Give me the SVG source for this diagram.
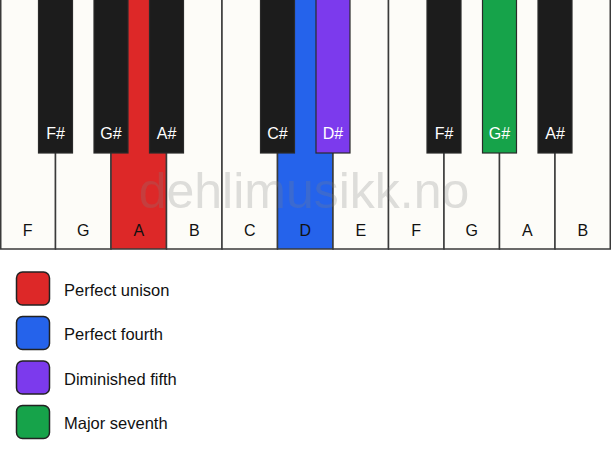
<svg xmlns="http://www.w3.org/2000/svg" width="611" height="461" viewBox="0 0 611 461">
<style>
.w{fill:#fdfcf8;stroke:#3a3a3a;stroke-width:1.5}
.b{fill:#1c1c1c;stroke:#2a2a2a;stroke-width:1.2}
.lw{font-family:"Liberation Sans",Arial,sans-serif;font-size:16px;fill:#111;text-anchor:middle}
.lb{font-family:"Liberation Sans",Arial,sans-serif;font-size:16px;fill:#fff;text-anchor:middle}
.sw{stroke:#222;stroke-width:1.5}
.lt{font-family:"Liberation Sans",Arial,sans-serif;font-size:16.5px;fill:#111}
</style>
<rect width="611" height="461" fill="#ffffff"/>
<g id="white-keys">
<g id="key-F1"><rect class="w" x="0.75" y="-1" width="54.75" height="250"/><text class="lw" x="27.75" y="236">F</text></g>
<g id="key-G1"><rect class="w" x="55.5" y="-1" width="55.5" height="250"/><text class="lw" x="83.25" y="236">G</text></g>
<g id="key-A1"><rect class="w" x="111" y="-1" width="55.5" height="250" style="fill:#dd2828"/><text class="lw" x="138.75" y="236">A</text></g>
<g id="key-B1"><rect class="w" x="166.5" y="-1" width="55.5" height="250"/><text class="lw" x="194.25" y="236">B</text></g>
<g id="key-C"><rect class="w" x="222" y="-1" width="55.5" height="250"/><text class="lw" x="249.75" y="236">C</text></g>
<g id="key-D"><rect class="w" x="277.5" y="-1" width="55.5" height="250" style="fill:#2563eb"/><text class="lw" x="305.25" y="236">D</text></g>
<g id="key-E"><rect class="w" x="333" y="-1" width="55.5" height="250"/><text class="lw" x="360.75" y="236">E</text></g>
<g id="key-F2"><rect class="w" x="388.5" y="-1" width="55.5" height="250"/><text class="lw" x="416.25" y="236">F</text></g>
<g id="key-G2"><rect class="w" x="444" y="-1" width="55.5" height="250"/><text class="lw" x="471.75" y="236">G</text></g>
<g id="key-A2"><rect class="w" x="499.5" y="-1" width="55.5" height="250"/><text class="lw" x="527.25" y="236">A</text></g>
<g id="key-B2"><rect class="w" x="555" y="-1" width="55.25" height="250"/><text class="lw" x="582.75" y="236">B</text></g>
</g>
<g id="black-keys">
<g id="key-Fs1"><rect class="b" x="38.5" y="-1" width="34" height="154"/><text class="lb" x="55.5" y="139">F#</text></g>
<g id="key-Gs1"><rect class="b" x="94" y="-1" width="34" height="154"/><text class="lb" x="111" y="139">G#</text></g>
<g id="key-As1"><rect class="b" x="149.5" y="-1" width="34" height="154"/><text class="lb" x="166.5" y="139">A#</text></g>
<g id="key-Cs"><rect class="b" x="260.5" y="-1" width="34" height="154"/><text class="lb" x="277.5" y="139">C#</text></g>
<g id="key-Ds"><rect class="b" x="316" y="-1" width="34" height="154" style="fill:#7c3aed"/><text class="lb" x="333" y="139">D#</text></g>
<g id="key-Fs2"><rect class="b" x="427" y="-1" width="34" height="154"/><text class="lb" x="444" y="139">F#</text></g>
<g id="key-Gs2"><rect class="b" x="482.5" y="-1" width="34" height="154" style="fill:#16a34a"/><text class="lb" x="499.5" y="139">G#</text></g>
<g id="key-As2"><rect class="b" x="538" y="-1" width="34" height="154"/><text class="lb" x="555" y="139">A#</text></g>
</g>
<text x="304" y="208" font-family="Liberation Sans,Arial,sans-serif" font-size="50" fill="#808080" fill-opacity="0.25" text-anchor="middle">dehlimusikk.no</text>
<g id="legend">
<g id="legend-unison"><rect class="sw" x="16.5" y="272" width="33" height="33" rx="6" fill="#dd2828"/><text class="lt" x="64" y="295.5">Perfect unison</text></g>
<g id="legend-fourth"><rect class="sw" x="16.5" y="316.5" width="33" height="33" rx="6" fill="#2563eb"/><text class="lt" x="64" y="340">Perfect fourth</text></g>
<g id="legend-fifth"><rect class="sw" x="16.5" y="361" width="33" height="33" rx="6" fill="#7c3aed"/><text class="lt" x="64" y="384.5">Diminished fifth</text></g>
<g id="legend-seventh"><rect class="sw" x="16.5" y="405.5" width="33" height="33" rx="6" fill="#16a34a"/><text class="lt" x="64" y="429">Major seventh</text></g>
</g>
<g id="connectors"/>
</svg>
